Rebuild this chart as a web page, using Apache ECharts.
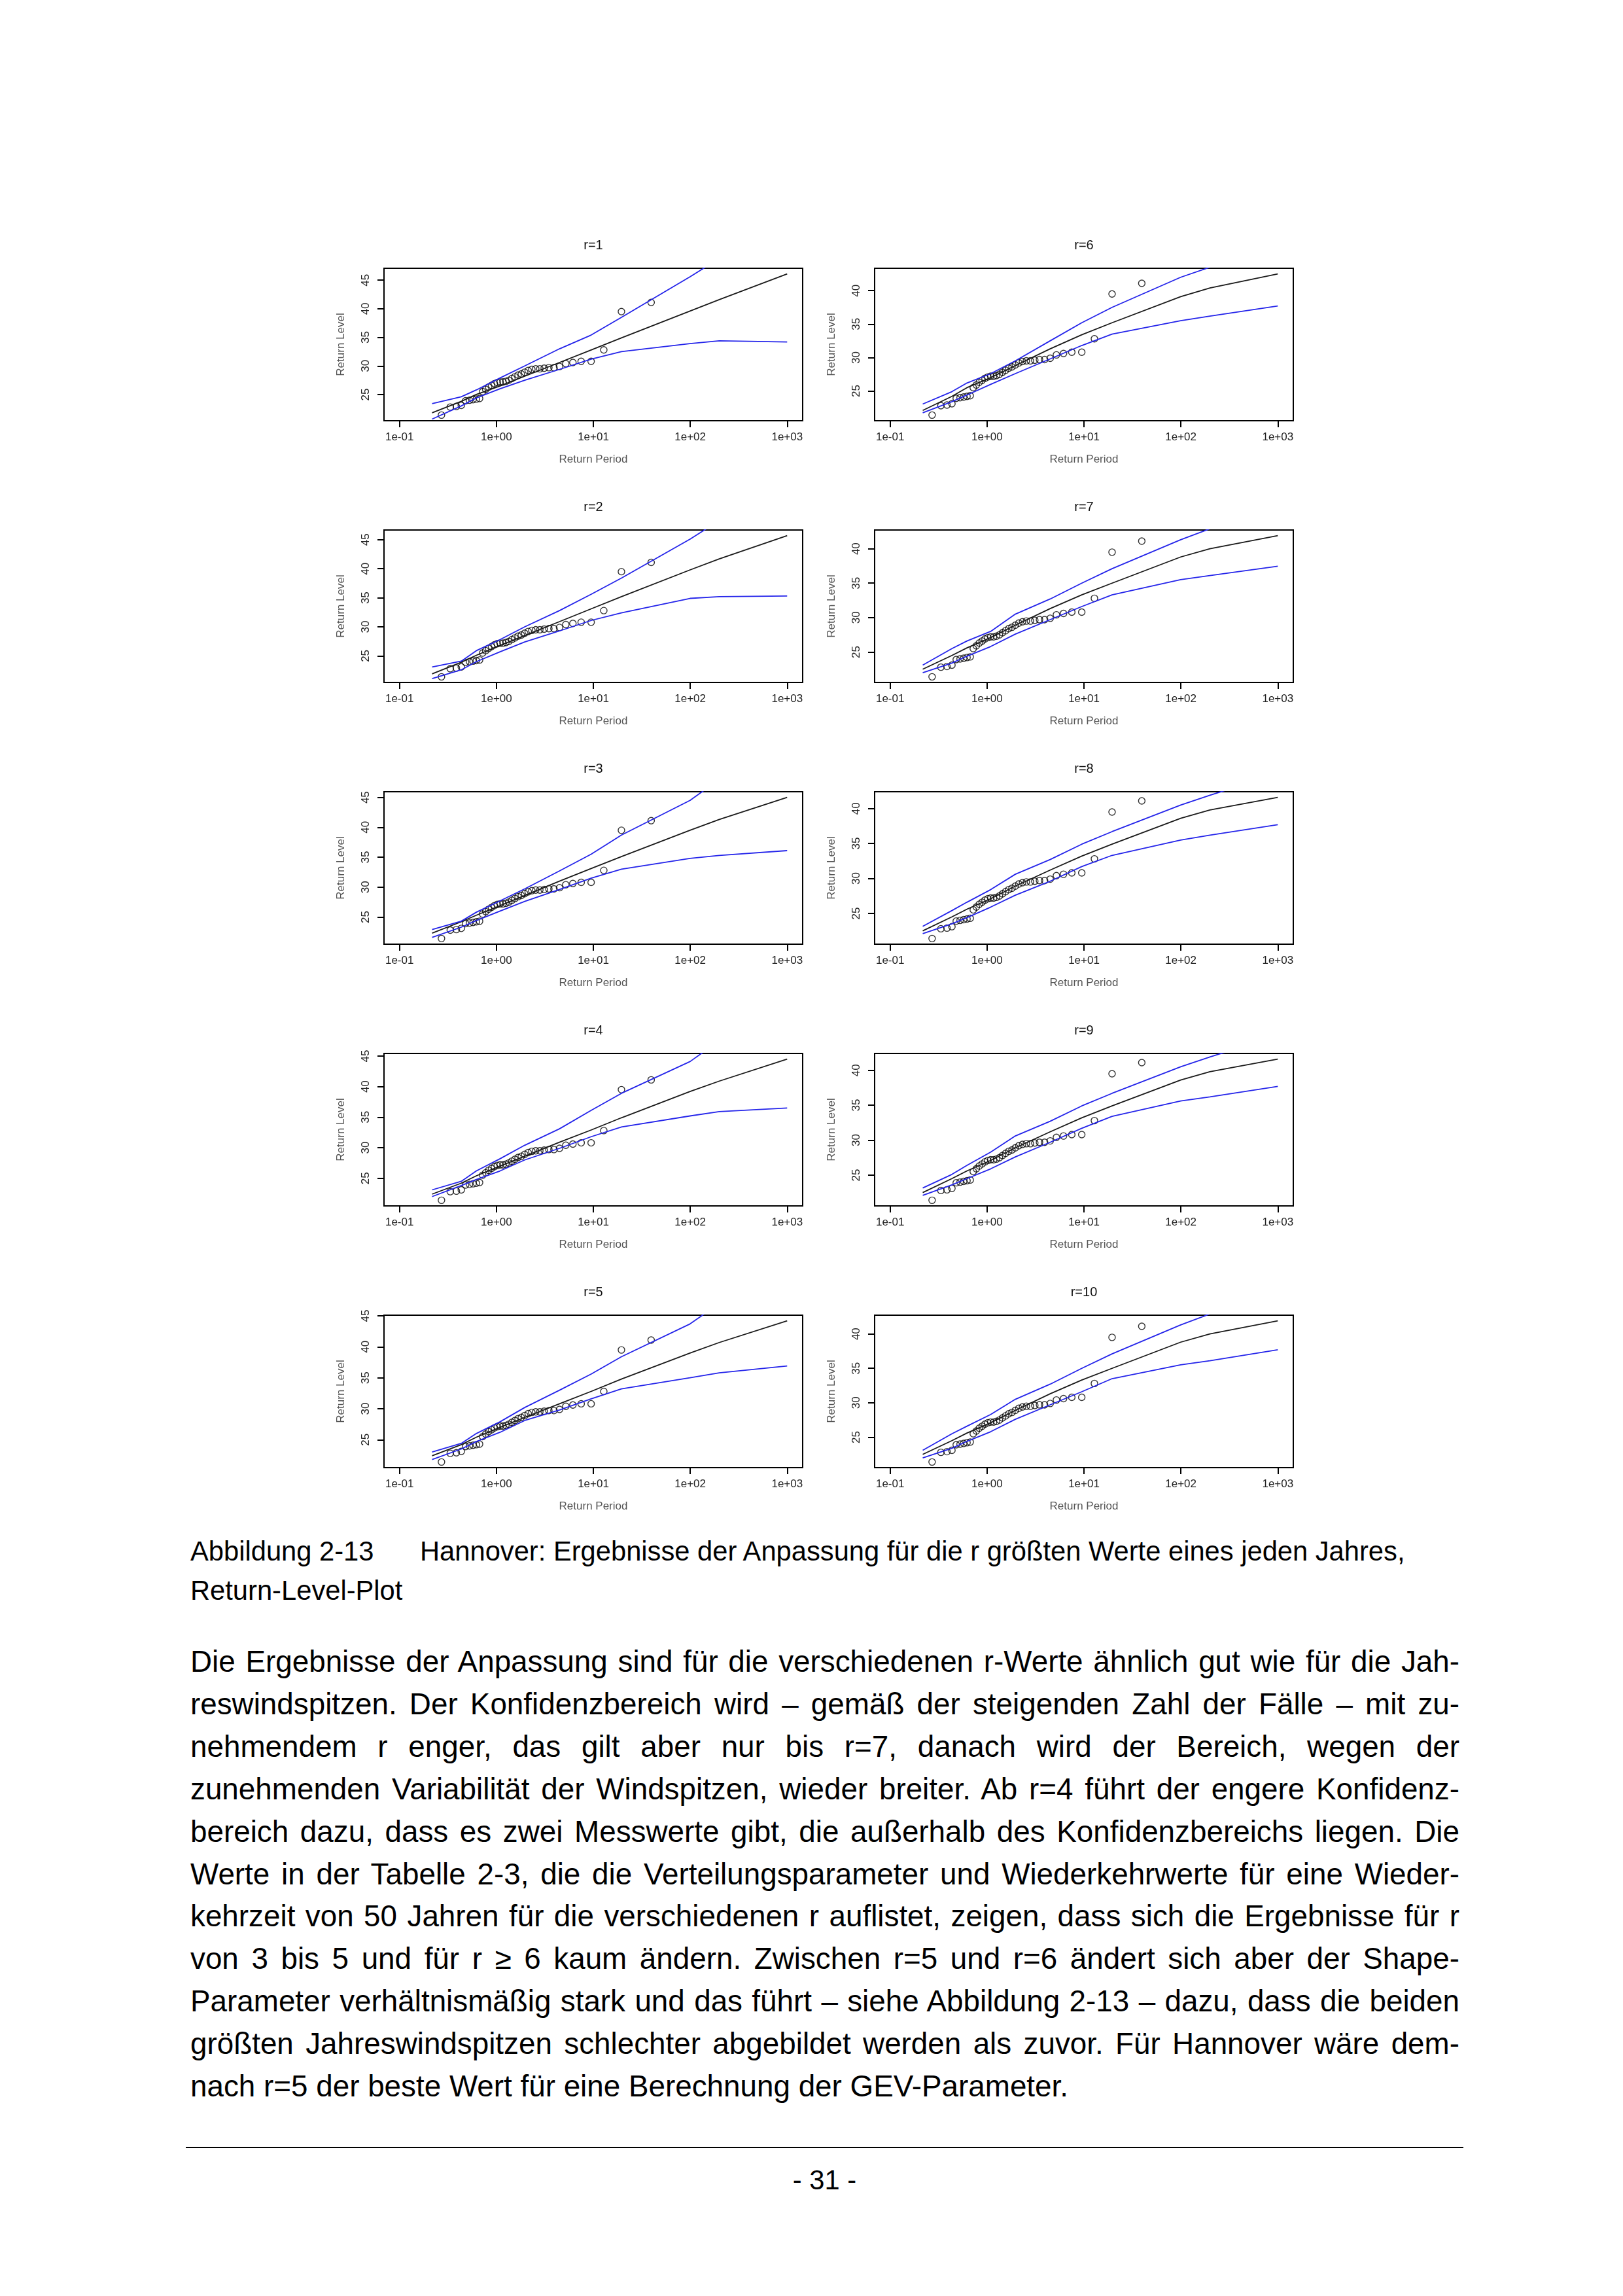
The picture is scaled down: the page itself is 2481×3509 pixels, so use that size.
<!DOCTYPE html>
<html>
<head>
<meta charset="utf-8">
<script src="https://cdn.jsdelivr.net/npm/echarts@6/dist/echarts.min.js"></script>
<style>
html, body { margin: 0; padding: 0; background: #fff; }
#page { position: relative; width: 2481px; height: 3509px; background: #fff; overflow: hidden; }
#chart { position: absolute; left: 0; top: 0; width: 2481px; height: 2330px; }
.txt { position: absolute; font-family: 'Liberation Sans', Arial, sans-serif; color: #000; white-space: pre; }
.cap { font-size: 41.7px; line-height: 60px; }
.bodyline { position: absolute; left: 291px; width: 1940px; font-family: 'Liberation Sans', Arial, sans-serif; color: #000;
  font-size: 45.8px; line-height: 65px; text-align: justify; text-align-last: justify; }
.bodyline.last { text-align: left; text-align-last: left; }
#rule { position: absolute; left: 284px; top: 3281px; width: 1953px; height: 2px; background: #000; }
</style>
</head>
<body>
<div id="page">
  <div id="chart"></div>
  <div class="txt cap" style="left:291px;top:2341px;">Abbildung 2-13</div>
  <div class="txt cap" style="left:642px;top:2341px;">Hannover: Ergebnisse der Anpassung für die r größten Werte eines jeden Jahres,</div>
  <div class="txt cap" style="left:291px;top:2401px;">Return-Level-Plot</div>
  <div id="body"></div>
  <div id="rule"></div>
  <div class="txt cap" style="left:0;width:2521px;text-align:center;top:3302px;">- 31 -</div>
</div>
<script>
// ---------------- data ----------------
const panelTitles = ['r=1', 'r=2', 'r=3', 'r=4', 'r=5', 'r=6', 'r=7', 'r=8', 'r=9', 'r=10'];
const returnPeriodTicks = [0.1, 1, 10, 100, 1000];
const returnPeriodTickLabels = ['1e-01', '1e+00', '1e+01', '1e+02', '1e+03'];
const returnLevelTicks = [25, 30, 35, 40, 45];

// observed annual maxima (empirical return periods and levels)
const obsPeriod = [0.271, 0.334, 0.386, 0.434, 0.481, 0.527, 0.574, 0.621, 0.670, 0.721,
  0.775, 0.831, 0.890, 0.953, 1.020, 1.091, 1.169, 1.252, 1.343, 1.443,
  1.552, 1.673, 1.807, 1.958, 2.128, 2.321, 2.544, 2.804, 3.110, 3.476,
  3.923, 4.481, 5.198, 6.153, 7.489, 9.491, 12.821, 19.496, 39.498];
const obsLevel = [21.4, 22.8, 22.9, 23.1, 23.9, 24.0, 24.1, 24.2, 24.3, 25.5,
  25.9, 26.3, 26.6, 26.9, 27.1, 27.2, 27.2, 27.3, 27.5, 27.8,
  28.1, 28.4, 28.6, 28.9, 29.2, 29.4, 29.5, 29.5, 29.6, 29.7,
  29.7, 29.9, 30.4, 30.6, 30.8, 30.8, 32.8, 39.5, 41.1];

// return periods at which the fitted curves are given
const curvePeriod = [0.217, 0.434, 0.621, 1.091, 1.958, 4.481, 9.491, 19.5, 99.5, 199.5, 999.5];

const centralR1 = [21.8, 23.8, 25.0, 26.5, 28.2, 30.6, 32.8, 34.9, 39.6, 41.6, 46.1];
const upperR1   = [23.4, 24.6, 25.8, 27.9, 30.0, 33.0, 35.4, 38.5, 45.6, 48.8, 57.0];
const lowerR1   = [20.7, 23.0, 24.4, 26.0, 27.5, 29.4, 31.2, 32.5, 33.9, 34.4, 34.2];

const centralR2 = [21.9, 23.9, 25.1, 26.8, 28.5, 30.9, 33.1, 35.2, 39.8, 41.7, 45.7];
const upperR2   = [23.1, 24.1, 25.9, 27.8, 30.0, 32.8, 35.6, 38.4, 45.1, 48.3, 56.0];
const lowerR2   = [21.1, 22.6, 24.0, 25.7, 27.4, 29.3, 31.1, 32.4, 34.9, 35.2, 35.3];

const centralR3 = [22.3, 24.2, 25.3, 26.9, 28.6, 31.0, 33.1, 35.1, 39.5, 41.3, 45.0];
const upperR3   = [22.9, 24.3, 25.8, 27.7, 29.7, 32.7, 35.5, 38.7, 44.5, 48.0, 56.0];
const lowerR3   = [21.6, 23.3, 24.4, 26.0, 27.6, 29.6, 31.5, 33.0, 34.8, 35.3, 36.1];

const centralR4 = [22.4, 24.2, 25.4, 27.0, 28.6, 30.9, 32.9, 34.9, 39.2, 40.9, 44.5];
const upperR4   = [23.1, 24.5, 26.2, 28.2, 30.4, 33.1, 36.1, 38.9, 44.1, 47.5, 55.0];
const lowerR4   = [22.0, 23.8, 24.8, 26.2, 28.0, 29.9, 31.8, 33.4, 35.2, 35.9, 36.5];

const centralR5 = [22.4, 24.2, 25.4, 27.0, 28.6, 30.8, 32.8, 34.8, 39.0, 40.7, 44.2];
const upperR5   = [23.0, 24.4, 26.0, 27.9, 30.2, 33.0, 35.6, 38.4, 43.7, 47.0, 54.5];
const lowerR5   = [21.8, 23.5, 24.7, 26.2, 28.1, 29.8, 31.6, 33.2, 35.0, 35.8, 36.9];

const centralR6 = [22.1, 24.2, 25.5, 27.0, 28.8, 31.3, 33.4, 35.2, 39.1, 40.4, 42.5];
const upperR6   = [23.05, 24.9, 26.2, 27.6, 29.5, 32.5, 35.2, 37.5, 42.0, 43.5, 49.0];
const lowerR6   = [21.75, 23.4, 24.4, 26.0, 27.6, 29.8, 31.8, 33.5, 35.5, 36.2, 37.7];

const centralR7 = [22.5, 24.5, 25.6, 27.1, 28.9, 31.3, 33.3, 35.0, 38.8, 40.0, 41.9];
const upperR7   = [23.1, 25.5, 26.6, 28.0, 30.5, 32.7, 35.0, 37.1, 41.3, 42.9, 46.0];
const lowerR7   = [22.0, 23.4, 24.4, 25.8, 27.6, 29.7, 31.6, 33.3, 35.5, 36.1, 37.45];

const centralR8 = [22.5, 24.5, 25.6, 27.1, 28.9, 31.2, 33.2, 34.9, 38.6, 39.8, 41.6];
const upperR8   = [23.15, 25.4, 26.6, 28.4, 30.6, 32.7, 34.9, 36.7, 40.5, 41.9, 45.0];
const lowerR8   = [22.1, 23.5, 24.4, 25.9, 27.6, 29.6, 31.7, 33.3, 35.5, 36.2, 37.7];

const centralR9 = [22.5, 24.5, 25.6, 27.1, 28.9, 31.2, 33.2, 34.9, 38.6, 39.8, 41.6];
const upperR9   = [23.15, 25.1, 26.4, 28.3, 30.6, 32.7, 34.9, 36.7, 40.5, 41.9, 45.0];
const lowerR9   = [22.1, 23.6, 24.5, 25.9, 27.6, 29.7, 31.7, 33.4, 35.6, 36.2, 37.7];

const centralR10 = [22.5, 24.5, 25.6, 27.1, 28.9, 31.3, 33.3, 35.0, 38.8, 40.0, 41.9];
const upperR10   = [23.1, 25.5, 26.6, 28.3, 30.5, 32.7, 35.0, 37.1, 41.3, 42.9, 46.0];
const lowerR10   = [22.0, 23.4, 24.4, 25.8, 27.6, 29.7, 31.6, 33.5, 35.5, 36.1, 37.7];

const bodyLines = [
  'Die Ergebnisse der Anpassung sind für die verschiedenen r-Werte ähnlich gut wie für die Jah-',
  'reswindspitzen. Der Konfidenzbereich wird – gemäß der steigenden Zahl der Fälle – mit zu-',
  'nehmendem r enger, das gilt aber nur bis r=7, danach wird der Bereich, wegen der',
  'zunehmenden Variabilität der Windspitzen, wieder breiter. Ab r=4 führt der engere Konfidenz-',
  'bereich dazu, dass es zwei Messwerte gibt, die außerhalb des Konfidenzbereichs liegen. Die',
  'Werte in der Tabelle 2-3, die die Verteilungsparameter und Wiederkehrwerte für eine Wieder-',
  'kehrzeit von 50 Jahren für die verschiedenen r auflistet, zeigen, dass sich die Ergebnisse für r',
  'von 3 bis 5 und für r ≥ 6 kaum ändern. Zwischen r=5 und r=6 ändert sich aber der Shape-',
  'Parameter verhältnismäßig stark und das führt – siehe Abbildung 2-13 – dazu, dass die beiden',
  'größten Jahreswindspitzen schlechter abgebildet werden als zuvor. Für Hannover wäre dem-',
  'nach r=5 der beste Wert für eine Berechnung der GEV-Parameter.'
];

// ---------------- body text ----------------
(function () {
  const host = document.getElementById('body');
  bodyLines.forEach(function (t, i) {
    const d = document.createElement('div');
    d.className = 'bodyline' + (i === bodyLines.length - 1 ? ' last' : '');
    d.style.top = (2507 + i * 64.9) + 'px';
    d.textContent = t;
    host.appendChild(d);
  });
})();

// ---------------- chart ----------------
const panels = [
  { c: centralR1, u: upperR1, l: lowerR1 }, { c: centralR2, u: upperR2, l: lowerR2 },
  { c: centralR3, u: upperR3, l: lowerR3 }, { c: centralR4, u: upperR4, l: lowerR4 },
  { c: centralR5, u: upperR5, l: lowerR5 }, { c: centralR6, u: upperR6, l: lowerR6 },
  { c: centralR7, u: upperR7, l: lowerR7 }, { c: centralR8, u: upperR8, l: lowerR8 },
  { c: centralR9, u: upperR9, l: lowerR9 }, { c: centralR10, u: upperR10, l: lowerR10 }
];

const FONT = "'Liberation Sans', Arial, sans-serif";
const colLeft = [587, 1337];
const rowTop = [410, 810, 1210, 1610, 2010];
const GW = 640, GH = 233;
const BLUE = '#2424ea';

const xTickLogs = returnPeriodTicks.map(function (v) { return Math.log10(v); });
const xLo = xTickLogs[0], xHi = xTickLogs[xTickLogs.length - 1];
const xPad = 0.04 * (xHi - xLo);

const grids = [], xAxes = [], yAxes = [], titles = [], series = [];

panels.forEach(function (p, k) {
  const col = k < 5 ? 0 : 1, row = k % 5;
  const left = colLeft[col], top = rowTop[row];
  grids.push({ left: left, top: top, width: GW, height: GH, show: true,
    borderColor: '#000', borderWidth: 2, backgroundColor: 'transparent' });

  const yVals = obsLevel.concat(p.c);
  const yMin = Math.min.apply(null, yVals), yMax = Math.max.apply(null, yVals);
  const yPad = 0.04 * (yMax - yMin);
  const yLo = yMin - yPad, yHi = yMax + yPad;
  const yTicks = returnLevelTicks.filter(function (v) { return v >= yLo && v <= yHi; });

  xAxes.push({
    type: 'value', gridIndex: k, min: xLo - xPad, max: xHi + xPad, position: 'bottom',
    axisLine: { show: false, onZero: false },
    splitLine: { show: false },
    axisTick: { show: true, inside: false, length: 10, customValues: xTickLogs,
      lineStyle: { color: '#000', width: 2 } },
    axisLabel: { customValues: xTickLogs, margin: 17, fontSize: 17, color: '#222', fontFamily: FONT,
      formatter: function (v) {
        const i = xTickLogs.findIndex(function (t) { return Math.abs(t - v) < 1e-6; });
        return i >= 0 ? returnPeriodTickLabels[i] : '';
      } },
    name: 'Return Period', nameLocation: 'middle', nameGap: 51,
    nameTextStyle: { fontSize: 17, color: '#555', fontFamily: FONT }
  });
  yAxes.push({
    type: 'value', gridIndex: k, min: yLo, max: yHi, position: 'left',
    axisLine: { show: false, onZero: false },
    splitLine: { show: false },
    axisTick: { show: true, inside: false, length: 10, customValues: yTicks,
      lineStyle: { color: '#000', width: 2 } },
    axisLabel: { customValues: yTicks, rotate: 90, margin: 19, fontSize: 17, color: '#222', fontFamily: FONT,
      formatter: function (v) { return String(v); } },
    name: 'Return Level', nameLocation: 'middle', nameGap: 57, nameRotate: 90,
    nameTextStyle: { fontSize: 17, color: '#555', fontFamily: FONT }
  });
  titles.push({ text: panelTitles[k], left: left + GW / 2, top: top - 45, textAlign: 'center', padding: 0,
    textStyle: { fontSize: 20, fontWeight: 'normal', color: '#111', fontFamily: FONT } });

  function curve(vals) {
    return curvePeriod.map(function (t, i) { return [Math.log10(t), vals[i]]; });
  }
  const base = { type: 'line', xAxisIndex: k, yAxisIndex: k, showSymbol: false, symbol: 'none',
    silent: true, animation: false, clip: true };
  series.push(Object.assign({}, base, { name: panelTitles[k] + ' level', data: curve(p.c),
    lineStyle: { color: '#1a1a1a', width: 1.8 } }));
  series.push(Object.assign({}, base, { name: panelTitles[k] + ' upper', data: curve(p.u),
    lineStyle: { color: BLUE, width: 1.8 } }));
  series.push(Object.assign({}, base, { name: panelTitles[k] + ' lower', data: curve(p.l),
    lineStyle: { color: BLUE, width: 1.8 } }));
  series.push({ type: 'scatter', xAxisIndex: k, yAxisIndex: k, silent: true, animation: false,
    name: panelTitles[k] + ' obs',
    data: obsPeriod.map(function (t, i) { return [Math.log10(t), obsLevel[i]]; }),
    symbol: 'circle', symbolSize: 10,
    itemStyle: { color: 'rgba(0,0,0,0)', borderColor: '#000', borderWidth: 1.4 } });
});

const chart = echarts.init(document.getElementById('chart'), null, { renderer: 'canvas' });
chart.setOption({
  backgroundColor: 'transparent',
  animation: false,
  title: titles,
  grid: grids,
  xAxis: xAxes,
  yAxis: yAxes,
  series: series
});
</script>
</body>
</html>
